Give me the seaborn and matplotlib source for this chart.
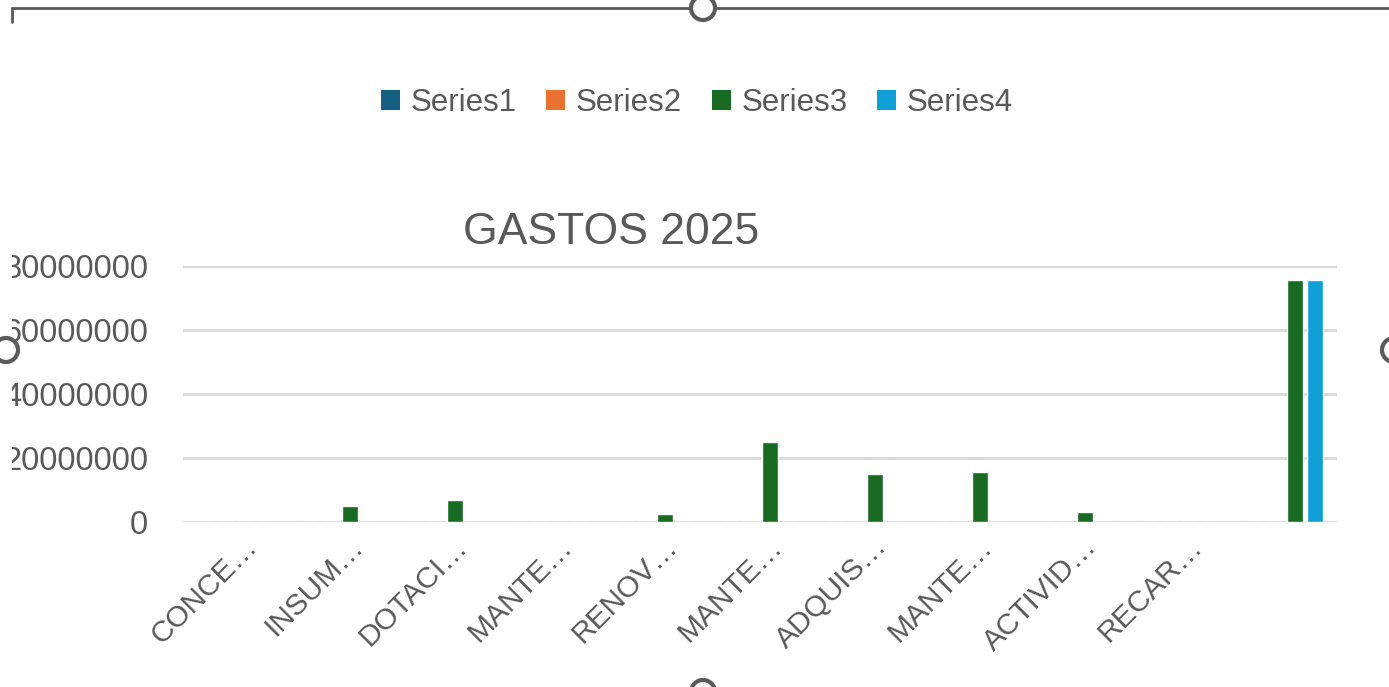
import numpy as np
import pandas as pd
import matplotlib
matplotlib.use("Agg")
import matplotlib.pyplot as plt
import matplotlib.transforms as mtrans
from matplotlib.patches import Patch, Ellipse, Rectangle
from matplotlib.lines import Line2D
import seaborn as sns

# data
categories = ["CONCE…", "INSUM…", "DOTACI…", "MANTE…", "RENOV…", "MANTE…",
              "ADQUIS…", "MANTE…", "ACTIVID…", "RECAR…", ""]
series1 = [0, 0, 0, 0, 0, 0, 0, 0, 0, 0, 0]
series2 = [0, 0, 0, 0, 0, 0, 0, 0, 0, 0, 0]
series3 = [0, 5000000, 6850000, 0, 2400000, 25000000, 15000000, 15600000, 3000000, 0, 75600000]
series4 = [0, 0, 0, 0, 0, 0, 0, 0, 0, 0, 75600000]
series_names = ["Series1", "Series2", "Series3", "Series4"]
colors = ["#156082", "#E97132", "#196B24", "#0F9ED5"]
y_ticks = [0, 20000000, 40000000, 60000000, 80000000]

rows = []
for name, vals in zip(series_names, [series1, series2, series3, series4]):
    for i, v in enumerate(vals):
        rows.append({"pos": i, "serie": name, "valor": v})
df = pd.DataFrame(rows)

sns.set_theme(style="white")
plt.rcParams["font.family"] = ["Liberation Sans", "DejaVu Sans"]
txt = "#595959"

W, H = 1389, 687
fig = plt.figure(figsize=(W / 100, H / 100), dpi=100)
ax = fig.add_axes([183 / W, 1 - 522 / H, (1337 - 183) / W, (522 - 265.7) / H])

sns.barplot(data=df, x="pos", y="valor", hue="serie", palette=colors,
            width=0.765, gap=0.2, ax=ax, legend=False, saturation=1)

ax.set_ylim(0, 80000000)
ax.set_xlim(-0.5, 10.5)
ax.set_yticks(y_ticks)
ax.set_yticklabels([str(t) for t in y_ticks], fontsize=23.5, color=txt)
ax.yaxis.grid(True, color="#D9D9D9", linewidth=2.2)
ax.set_axisbelow(True)
ax.tick_params(axis="y", length=0, pad=25)
ax.tick_params(axis="x", length=0, pad=6)
ax.set_xticks(range(len(categories)))
ax.set_xticklabels(categories, fontsize=21.5, color=txt, rotation=45,
                   ha="right", va="center", rotation_mode="anchor")
shift = mtrans.ScaledTranslation(18 / 100, -12 / 100, fig.dpi_scale_trans)
for lab in ax.get_xticklabels():
    lab.set_transform(lab.get_transform() + shift)
ax.set_xlabel("")
ax.set_ylabel("")
for s in ax.spines.values():
    s.set_visible(False)

fig.text(611 / W, 1 - 232 / H, "GASTOS 2025", fontsize=32, color=txt,
         ha="center", va="center")

handles = [Patch(facecolor=c, edgecolor="none", label=n) for c, n in zip(colors, series_names)]
fig.legend(handles=handles, loc="center", bbox_to_anchor=(697 / W, 1 - 103 / H),
           ncol=4, frameon=False, fontsize=22.5, handlelength=0.6, handleheight=0.6,
           handletextpad=0.35, columnspacing=0.95, labelcolor=txt)

# chart object edge: the labels are cut off left of it
fig.add_artist(Rectangle((0, 0), 12 / W, 1, transform=fig.transFigure,
                         facecolor="white", edgecolor="none", zorder=5))

# selection frame of the chart object
fc = "#5a5a5a"
fig.add_artist(Line2D([12 / W, 1], [1 - 8 / H, 1 - 8 / H], color=fc, lw=2, zorder=6))
fig.add_artist(Line2D([12 / W, 12 / W], [1 - 8 / H, 1 - 22 / H], color=fc, lw=2, zorder=6))
for cx, cy in [(703, 8), (6, 350), (1394, 350), (703, 692)]:
    fig.add_artist(Ellipse((cx / W, 1 - cy / H), width=24 / W, height=24 / H,
                           transform=fig.transFigure, facecolor="white",
                           edgecolor=fc, lw=3, zorder=7))

fig.savefig("out.png", dpi=100)
